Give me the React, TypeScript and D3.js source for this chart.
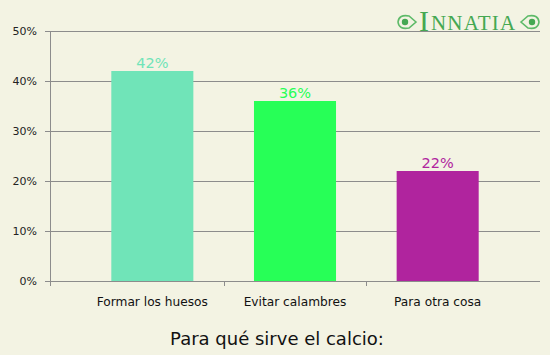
import React, { useEffect, useRef } from "react";
import * as d3 from "d3";

const categories = ["Formar los huesos", "Evitar calambres", "Para otra cosa"];
const values = [42, 36, 22];
const barColors = ["#70E4B8", "#27FF57", "#B0249E"];
const yTicks = [0, 10, 20, 30, 40, 50];
const title = "Para qué sirve el calcio:";

const W = 550,
	H = 355;

function draw(ref: SVGSVGElement | null) {
	if (!ref) return;
	const svg = d3.select(ref);
	svg.selectAll("*").remove();

	svg.append("rect").attr("width", W).attr("height", H).attr("fill", "#F3F3E3");

	const y = d3.scaleLinear().domain([0, 50]).range([281, 31]);
	const x = d3.scaleBand<string>().domain(categories).range([81, 509]).paddingInner(0.425).paddingOuter(0.2125);
	const xEdge = d3.scaleBand<string>().domain(categories).range([81, 509]);

	// gridlines
	svg.append("g")
		.selectAll("line")
		.data(yTicks)
		.join("line")
		.attr("x1", 45)
		.attr("x2", 540)
		.attr("y1", (d) => Math.round(y(d)) + 0.5)
		.attr("y2", (d) => Math.round(y(d)) + 0.5)
		.attr("stroke", "#8C8C8C")
		.attr("stroke-width", 1);

	// y labels
	svg.append("g")
		.selectAll("text")
		.data(yTicks)
		.join("text")
		.attr("x", 37)
		.attr("y", (d) => y(d))
		.attr("dy", "0.35em")
		.attr("text-anchor", "end")
		.attr("font-family", "DejaVu Sans, Verdana, sans-serif")
		.attr("font-size", 11)
		.attr("fill", "#222")
		.text((d) => d + "%");

	// logo
	const logo = svg.append("g").attr("fill", "#45A852");
	logo.append("text")
		.attr("x", 419)
		.attr("y", 31)
		.attr("font-family", "Liberation Serif, DejaVu Serif, serif")
		.attr("font-size", 30)
		.attr("fill", "#45A852")
		.text("I");
	logo.append("text")
		.attr("x", 431)
		.attr("y", 30)
		.attr("font-family", "Liberation Serif, DejaVu Serif, serif")
		.attr("font-size", 21)
		.attr("letter-spacing", 1.2)
		.attr("fill", "#45A852")
		.text("NNATIA");
	[
		{ cx: 407, dir: -1 },
		{ cx: 530, dir: 1 },
	].forEach(({ cx, dir }) => {
		const g = logo.append("g").attr("transform", `translate(${cx},22)`);
		g.append("path")
			.attr("d", `M${-9 * dir},0 L${-2 * dir},-6 Q${8 * dir},-8 ${9 * dir},0 Q${8 * dir},8 ${-2 * dir},6 Z`)
			.attr("fill", "none")
			.attr("stroke", "#5DBA68")
			.attr("stroke-width", 1.6);
		g.append("circle").attr("cx", 2 * dir).attr("cy", 0).attr("r", 3.2).attr("fill", "#45A852");
	});
	svg.append("line")
		.attr("x1", 395)
		.attr("x2", 540)
		.attr("y1", 31.5)
		.attr("y2", 31.5)
		.attr("stroke", "#8C8C8C");

	// bars
	svg.append("g")
		.selectAll("rect")
		.data(values)
		.join("rect")
		.attr("x", (_, i) => x(categories[i])!)
		.attr("y", (d) => y(d))
		.attr("width", x.bandwidth())
		.attr("height", (d) => y(0) - y(d))
		.attr("fill", (_, i) => barColors[i]);

	// value labels
	svg.append("g")
		.selectAll("text")
		.data(values)
		.join("text")
		.attr("x", (_, i) => x(categories[i])! + x.bandwidth() / 2)
		.attr("y", (d) => y(d) - 3)
		.attr("text-anchor", "middle")
		.attr("font-family", "DejaVu Sans, Verdana, sans-serif")
		.attr("font-size", 14.5)
		.attr("fill", (_, i) => barColors[i])
		.text((d) => d + "%");

	// axes
	svg.append("line")
		.attr("x1", 50.5)
		.attr("x2", 50.5)
		.attr("y1", 31)
		.attr("y2", 286)
		.attr("stroke", "#8C8C8C");
	svg.append("line")
		.attr("x1", 45)
		.attr("x2", 540)
		.attr("y1", 281.5)
		.attr("y2", 281.5)
		.attr("stroke", "#8C8C8C");
	svg.append("g")
		.selectAll("line")
		.data(categories.slice(1))
		.join("line")
		.attr("x1", (d) => Math.round(xEdge(d)!) + 0.5)
		.attr("x2", (d) => Math.round(xEdge(d)!) + 0.5)
		.attr("y1", 281)
		.attr("y2", 286)
		.attr("stroke", "#8C8C8C");

	// category labels
	svg.append("g")
		.selectAll("text")
		.data(categories)
		.join("text")
		.attr("x", (d) => x(d)! + x.bandwidth() / 2)
		.attr("y", 306)
		.attr("text-anchor", "middle")
		.attr("font-family", "DejaVu Sans, Verdana, sans-serif")
		.attr("font-size", 12.2)
		.attr("fill", "#111")
		.text((d) => d);

	svg.append("text")
		.attr("x", 277)
		.attr("y", 345)
		.attr("text-anchor", "middle")
		.attr("font-family", "DejaVu Sans, Verdana, sans-serif")
		.attr("font-size", 18)
		.attr("fill", "#111")
		.text(title);
}

export default function App() {
	const ref = useRef<SVGSVGElement>(null);
	useEffect(() => {
		draw(ref.current);
	}, []);
	return (
		<svg
			ref={ref}
			width={W}
			height={H}
			viewBox={`0 0 ${W} ${H}`}
			style={{ position: "absolute", left: 0, top: 0 }}
		/>
	);
}
